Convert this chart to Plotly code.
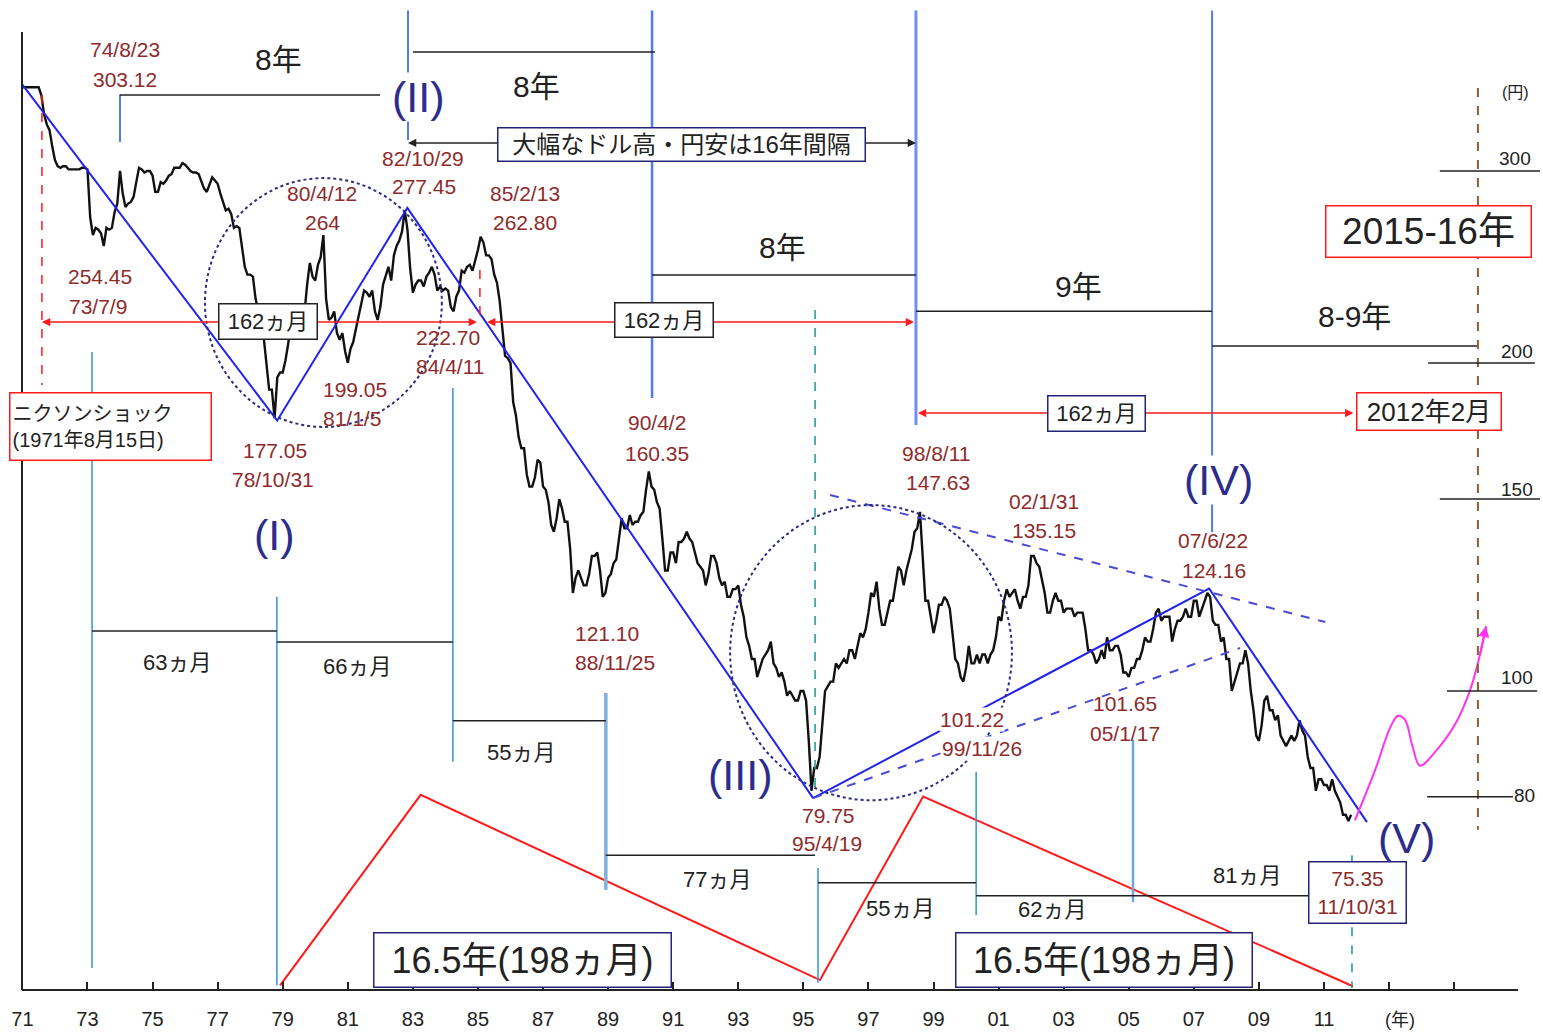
import numpy as np
import plotly.graph_objects as go

# ---------------- data (USD/JPY, monthly) ----------------
jpy_1970s = [
    358, 358, 358, 358, 358, 358, 358, 352, 338, 331, 327, 316,   # 1971
    307, 303, 302, 303, 303, 301, 301, 301, 301, 301, 302, 302,   # 1972
    301, 272, 262, 266, 265, 263, 256, 266, 265, 266, 275, 280,   # 1973
    300, 286, 278, 280, 281, 284, 293, 302, 301, 299, 300, 300,   # 1974
    297, 287, 287, 293, 292, 294, 297, 298, 302, 302, 302, 305,   # 1975
    304, 302, 300, 299, 299, 298, 293, 289, 287, 292, 296, 294,   # 1976
    292, 286, 281, 276, 277, 274, 266, 267, 266, 255, 245, 241,   # 1977
    241, 240, 229, 223, 225, 211, 199, 189, 189, 178, 194, 196,   # 1978
    196, 201, 208, 218, 220, 218, 216, 217, 222, 236, 247, 240,   # 1979
]
jpy_1980s = [
    238, 246, 250, 262, 229, 219, 220, 223, 213, 210, 213, 205,   # 1980
    200, 206, 209, 215, 221, 226, 233, 232, 230, 233, 223, 219,   # 1981
    225, 236, 241, 245, 238, 251, 256, 259, 264, 276, 265, 244,   # 1982
    232, 236, 238, 238, 235, 240, 242, 245, 241, 233, 235, 233,   # 1983
    234, 233, 225, 223, 230, 233, 243, 242, 245, 246, 243, 248,   # 1984
    254, 261, 258, 251, 251, 249, 241, 237, 228, 215, 203, 202,   # 1985
    200, 184, 179, 171, 167, 167, 158, 154, 154, 157, 163, 162,   # 1986
    154, 153, 149, 142, 140, 144, 150, 147, 143, 143, 135, 123,   # 1987
    127, 129, 127, 125, 125, 128, 133, 133, 134, 129, 122, 123,   # 1988
    127, 128, 131, 132, 138, 144, 141, 141, 145, 142, 143, 143,   # 1989
]
jpy_1990s = [
    145, 146, 153, 159, 154, 153, 149, 147, 138, 129, 129, 134,   # 1990
    134, 131, 137, 137, 138, 140, 138, 137, 134, 131, 130, 129,   # 1991
    125, 128, 133, 133, 131, 127, 125, 126, 122, 122, 124, 124,   # 1992
    125, 120, 117, 112, 110, 107, 107, 103, 105, 107, 108, 109,   # 1993
    111, 106, 105, 103, 104, 102, 99, 100, 99, 98, 98, 100,       # 1994
    100, 98, 90, 81, 85, 85, 87, 94, 100, 101, 102, 102,          # 1995
    106, 105, 106, 107, 106, 109, 109, 107, 110, 113, 112, 114,   # 1996
    118, 123, 122, 126, 119, 115, 115, 118, 121, 121, 125, 130,   # 1997
    129, 125, 129, 132, 135, 140, 141, 146, 134, 121, 121, 117,   # 1998
    113, 116, 120, 120, 122, 121, 119, 113, 107, 106, 103, 102,   # 1999
]
jpy_2000s = [
    105, 110, 106, 106, 108, 106, 108, 108, 106, 108, 109, 112,   # 2000
    117, 116, 121, 124, 122, 123, 124, 121, 119, 122, 122, 125,   # 2001
    133, 133, 131, 130, 126, 123, 118, 118, 121, 123, 121, 121,   # 2002
    118, 119, 119, 119, 117, 118, 118, 118, 114, 109, 109, 108,   # 2003
    106, 107, 109, 107, 112, 109, 109, 110, 110, 108, 104, 104,   # 2004
    103, 105, 105, 107, 107, 109, 112, 111, 111, 114, 118, 119,   # 2005
    116, 117, 117, 117, 111, 114, 116, 116, 117, 119, 117, 117,   # 2006
    121, 121, 117, 119, 121, 123, 122, 116, 115, 115, 111, 112,   # 2007
    107, 107, 100, 102, 104, 106, 106, 109, 106, 100, 96, 91,     # 2008
    90, 93, 98, 99, 96, 96, 94, 95, 91, 90, 89, 90,               # 2009
]
jpy_2010s = [
    91, 90, 91, 94, 92, 91, 87, 85, 85, 81, 83, 83,               # 2010
    82, 82, 81, 83, 81, 80, 79, 77, 77, 76, 77,                   # 2011
]
monthly_close = jpy_1970s + jpy_1980s + jpy_1990s + jpy_2000s + jpy_2010s
month_t = [1971 + i / 12 for i in range(len(monthly_close))]

# wave pivots (I)..(V)
wave_dates = [1971.0, 1978.83, 1982.83, 1995.30]
wave_prices = [360, 177.05, 277.45, 79.75]
wave2_dates = [1995.30, 2007.47, 2012.32]
wave2_prices = [79.75, 124.16, 75.8]
upper_dates = [1995.82, 2011.04]
upper_prices = [151.3, 115.7]
lower_dates = [1995.30, 2008.42]
lower_prices = [79.75, 109.5]

# 16.5-year cycle zigzag
cycle_dates = [1978.92, 1983.24, 1995.51, 1998.68, 2011.89]
cycle_levels = [53.7, 80.3, 54.3, 80.0, 53.6]

# projected path (magenta)
proj_dates = [2011.95, 2012.57, 2013.03, 2013.27, 2013.49, 2013.71, 2013.95,
              2014.41, 2015.02, 2015.49, 2015.79, 2015.98]
proj_prices = [76.1, 84.6, 92.5, 94.9, 94.1, 89.2, 85.4, 87.9, 93.1, 100.2, 107.9, 114.7]

# pivot labels: (top text, bottom text)
pivot_texts = [
    ("74/8/23", "303.12"), ("254.45", "73/7/9"), ("80/4/12", "264"),
    ("82/10/29", "277.45"), ("85/2/13", "262.80"), ("222.70", "84/4/11"),
    ("199.05", "81/1/5"), ("177.05", "78/10/31"), ("90/4/2", "160.35"),
    ("121.10", "88/11/25"), ("98/8/11", "147.63"), ("02/1/31", "135.15"),
    ("07/6/22", "124.16"), ("101.22", "99/11/26"), ("101.65", "05/1/17"),
    ("79.75", "95/4/19"),
]
month_counts = ["63ヵ月", "66ヵ月", "55ヵ月", "77ヵ月", "55ヵ月", "62ヵ月", "81ヵ月"]
year_tick_vals = list(range(1971, 2016, 2))
year_tick_text = ["71", "73", "75", "77", "79", "81", "83", "85", "87", "89", "91",
                  "93", "95", "97", "99", "01", "03", "05", "07", "09", "11", "", ""]
price_ticks = [300, 200, 150, 100, 80]
price_tick_text = ["300", "200", "150", "100", "80"]

# ---------------- styles ----------------
FONT = "Liberation Sans, Arial, Noto Sans CJK JP, sans-serif"
DRED = "#8e2b2b"
NAVY = "#2c2c8c"
BOXNAVY = "#23237a"
BLUE = "#2323ee"
MARK = "#4f7cf5"
LBLUE = "#3293d6"
TEAL = "#1a9a8a"
RED = "#ff1a1a"
BLK = "#222222"

X_LEFT = 1971 + (22 - 22.4) / 32.54
X_RIGHT = 1971 + (1543 - 22.4) / 32.54
Y_LO = (2871 - 990) / 1090
Y_HI = (2871 - 10) / 1090


def L(p):
    return float(np.log10(p))


shapes = []
annotations = []


def seg(x0, p0, x1, p1, color, width=1.5, dash="solid", xref="x"):
    shapes.append(dict(type="line", xref=xref, yref="y", x0=x0, x1=x1, y0=p0, y1=p1,
                       line=dict(color=color, width=width, dash=dash)))


def txt(x, p, s, size, color=BLK, **kw):
    d = dict(x=x, y=L(p), xref="x", yref="y", text=s, showarrow=False,
             font=dict(size=size, color=color))
    d.update(kw)
    annotations.append(d)


def box(x, p, s, size, border, w, h, color=BLK, align="center"):
    txt(x, p, s, size, color, bgcolor="white", bordercolor=border, borderwidth=1.5,
        borderpad=2, width=w, height=h, align=align)


def arrow(xh, ph, xt, pt, color, width=1.5):
    annotations.append(dict(x=xh, y=L(ph), ax=xt, ay=L(pt), xref="x", yref="y",
                            axref="x", ayref="y", text="", showarrow=True,
                            arrowhead=2, arrowsize=1.1, arrowwidth=width,
                            arrowcolor=color, standoff=0, startstandoff=0))


def double_arrow(x0, x1, p, color):
    xm = (x0 + x1) / 2
    arrow(x0, p, xm, p, color)
    arrow(x1, p, xm, p, color)


# ---------------- axes frame ----------------
shapes.append(dict(type="line", xref="paper", yref="y", x0=0, x1=0, y0=10 ** Y_LO, y1=402.3,
                   line=dict(color=BLK, width=2)))
shapes.append(dict(type="line", xref="x", yref="paper", x0=X_LEFT, x1=2016.96, y0=0, y1=0,
                   line=dict(color=BLK, width=2)))

# ---------------- wave markers (blue verticals) & year spans ----------------
seg(1974.00, 352.2, 1974.00, 318.9, MARK, 2)
seg(1982.85, 421, 1982.85, 320.3, MARK, 2)
seg(1990.35, 421, 1990.35, 185.7, MARK, 2.5)
seg(1998.46, 421, 1998.46, 175.4, "#6d8ff7", 3)
seg(2007.56, 421, 2007.56, 139.9, MARK, 2)

seg(1973.99, 352.2, 1981.99, 352.2, BLK, 1.5)
seg(1983.00, 385.7, 1990.44, 385.7, BLK, 1.5)
seg(1990.35, 240.8, 1998.46, 240.8, BLK, 1.5)
seg(1998.46, 223.1, 2007.56, 223.1, BLK, 1.5)
seg(2007.56, 207.3, 2015.73, 207.3, BLK, 1.5)

# red dashed markers
seg(1971.60, 352.2, 1971.60, 190.9, RED, 1.5, "dash")
seg(1985.06, 243.3, 1985.06, 218.0, RED, 1.5, "dash")
# brown dashed projection line
seg(2015.73, 357.4, 2015.73, 74.6, "#8b5e34", 2, "dash")

# month-count verticals
for xv, p0, p1, col, wd in [
    (1973.14, 204.6, 55.7, LBLUE, 1.5), (1978.82, 122.0, 53.7, LBLUE, 1.5),
    (1984.23, 189.7, 86.1, LBLUE, 1.5), (1988.93, 99.6, 65.7, "#7fb0de", 3.5),
    (1995.45, 68.8, 54.0, LBLUE, 1.5), (2000.31, 84.3, 62.3, LBLUE, 1.5),
    (2005.13, 90.2, 64.0, "#6fa8dc", 2.5)]:
    seg(xv, p0, xv, p1, col, wd)
seg(1995.36, 223.6, 1995.36, 81.1, TEAL, 1.5, "dash")
seg(2011.86, 70.7, 2011.86, 53.4, TEAL, 1.5, "dash")

# month-count brackets
for p, x0, x1 in [(113.5, 1973.14, 1978.82), (110.9, 1978.82, 1984.23),
                  (93.9, 1984.23, 1988.93), (70.7, 1988.93, 1995.36),
                  (66.7, 1995.45, 2000.31), (64.9, 2000.31, 2011.86)]:
    seg(x0, p, x1, p, BLK, 1.5)

# dotted circles
shapes.append(dict(type="circle", xref="x", yref="y", x0=1976.61, x1=1983.89, y0=174.7, y1=295.5,
                   line=dict(color="#2b2b80", width=2, dash="dot")))
shapes.append(dict(type="circle", xref="x", yref="y", x0=1992.75, x1=2001.41, y0=79.4, y1=148.1,
                   line=dict(color="#2b2b80", width=2, dash="dot")))

# right-hand price scale
for p, x0, x1 in zip(price_ticks, [2014.56, 2014.20, 2014.56, 2014.78, 2014.17],
                     [2017.64, 2017.48, 2017.64, 2017.55, 2016.81]):
    seg(x0, p, x1, p, BLK, 1.5)
for p, s, xl, sh in zip(price_ticks, price_tick_text,
                        [2016.87, 2016.93, 2016.93, 2016.93, 2017.15], [12, 11, 10, 14, 1]):
    txt(xl, p, s, 19, BLK, yshift=sh)
txt(2016.87, 353.7, "(円)", 16, BLK)

# ---------------- traces ----------------
fig = go.Figure()
fig.add_trace(go.Scatter(x=month_t, y=monthly_close, mode="lines",
                         line=dict(color="#111111", width=2.4), hoverinfo="skip"))
fig.add_trace(go.Scatter(x=wave_dates, y=wave_prices, mode="lines",
                         line=dict(color=BLUE, width=2)))
fig.add_trace(go.Scatter(x=wave2_dates, y=wave2_prices, mode="lines",
                         line=dict(color=BLUE, width=2)))
fig.add_trace(go.Scatter(x=upper_dates, y=upper_prices, mode="lines",
                         line=dict(color="#4a4ad6", width=2, dash="dash")))
fig.add_trace(go.Scatter(x=lower_dates, y=lower_prices, mode="lines",
                         line=dict(color="#4a4ad6", width=2, dash="dash")))
fig.add_trace(go.Scatter(x=cycle_dates, y=cycle_levels, mode="lines",
                         line=dict(color=RED, width=2)))
fig.add_trace(go.Scatter(x=proj_dates, y=proj_prices, mode="lines",
                         line=dict(color="#ff33ee", width=2, shape="spline")))
arrow(proj_dates[-1], proj_prices[-1], proj_dates[-2], proj_prices[-2], "#ff33ee", 2)

# ---------------- arrows ----------------
double_arrow(1982.85, 1998.46, 318.3, BLK)
double_arrow(1971.60, 1984.97, 218.0, RED)
double_arrow(1985.28, 1998.40, 218.0, RED)
double_arrow(1998.52, 2011.90, 179.9, RED)

# ---------------- text ----------------
pivot_pos = [
    (1974.15, 1974.15, 387.4, 363.6), (1973.38, 1973.32, 239.8, 225.5),
    (1980.21, 1980.21, 286.3, 269.3), (1983.31, 1983.34, 308.3, 290.0),
    (1986.45, 1986.45, 286.3, 269.3), (1984.08, 1984.17, 211.2, 198.3),
    (1981.22, 1981.13, 188.9, 178.0), (1978.76, 1978.70, 166.1, 156.2),
    (1990.50, 1990.50, 176.2, 165.3), (1988.96, 1989.21, 112.8, 106.1),
    (1999.08, 1999.14, 165.3, 155.2), (2002.40, 2002.40, 149.1, 140.5),
    (2007.59, 2007.62, 137.3, 128.9), (2000.18, 2000.50, 94.1, 88.5),
    (2004.89, 2004.89, 97.3, 91.5), (1995.76, 1995.73, 76.9, 72.4),
]
for (t1, t2), (xa, xb, pa, pb) in zip(pivot_texts, pivot_pos):
    if t1 == "101.22":
        txt(xa, pa, t1, 21, DRED, bgcolor="white", borderpad=0)
        txt(xb, pb, t2, 21, DRED, bgcolor="white", borderpad=0)
    else:
        txt(xa, pa, t1, 21, DRED)
        txt(xb, pb, t2, 21, DRED)

# wave numbers
txt(1978.76, 139.0, "(I)", 43, NAVY)
txt(1983.16, 350.8, "(II)", 43, NAVY, bgcolor="white", borderpad=0)
txt(1993.05, 83.7, "(III)", 43, NAVY)
txt(2007.75, 156.2, "(IV)", 43, NAVY, bgcolor="white", borderpad=0)
txt(2013.55, 73.3, "(V)", 43, NAVY)

# year spans
txt(1978.86, 379.3, "8年", 30)
txt(1986.81, 358.9, "8年", 30)
txt(1994.37, 255.0, "8年", 30)
txt(2003.44, 234.8, "9年", 30)
txt(2011.95, 220.8, "8-9年", 30)

# month counts
for s, (xm, pm) in zip(month_counts, [(1975.75, 106.3), (1981.28, 105.4), (1986.32, 87.9),
                                       (1992.35, 67.1), (1997.97, 63.2), (2002.65, 63.0),
                                       (2008.64, 67.7)]):
    txt(xm, pm, s, 22)

# boxes
box(1991.26, 316.9, "大幅なドル高・円安は16年間隔", 24, BOXNAVY, 362, 28)
box(1978.55, 218.5, "162ヵ月", 22, BLK, 93, 30)
box(1990.72, 219.0, "162ヵ月", 22, BLK, 93, 29)
box(2004.00, 179.9, "162ヵ月", 22, BOXNAVY, 92, 30)
box(2014.23, 180.3, "2012年2月", 26, RED, 139, 32)
box(2014.20, 264.2, "2015-16年", 37, RED, 200, 46)
box(1973.72, 174.7, "ニクソンショック<br>(1971年8月15日)", 20, RED, 196, 62, align="left")
box(1986.38, 56.6, "16.5年(198ヵ月)", 36, BOXNAVY, 292, 49)
box(2004.24, 56.6, "16.5年(198ヵ月)", 36, BOXNAVY, 291, 49)
box(2012.02, 65.3, "75.35<br>11/10/31", 21, BOXNAVY, 92, 56, color=DRED)

annotations.append(dict(x=2013.34, y=0, xref="x", yref="paper", yshift=-30, yanchor="middle",
                        xanchor="center", text="(年)", showarrow=False,
                        font=dict(size=18, color=BLK)))

fig.update_layout(
    width=1543, height=1034,
    margin=dict(l=22, r=0, t=10, b=44),
    paper_bgcolor="white", plot_bgcolor="white",
    showlegend=False,
    font=dict(family=FONT, color=BLK),
    xaxis=dict(range=[X_LEFT, X_RIGHT], tickvals=year_tick_vals, ticktext=year_tick_text,
               ticks="inside", ticklen=8, tickwidth=2, tickcolor=BLK,
               showgrid=False, zeroline=False, showline=False,
               tickfont=dict(size=20, color=BLK), ticklabelstandoff=15),
    yaxis=dict(type="log", range=[Y_LO, Y_HI], visible=False),
    shapes=shapes,
    annotations=annotations,
)

fig.write_html("out.html", config={"displayModeBar": False},
               post_script="document.body.style.margin='0';document.body.style.overflow='hidden';")
